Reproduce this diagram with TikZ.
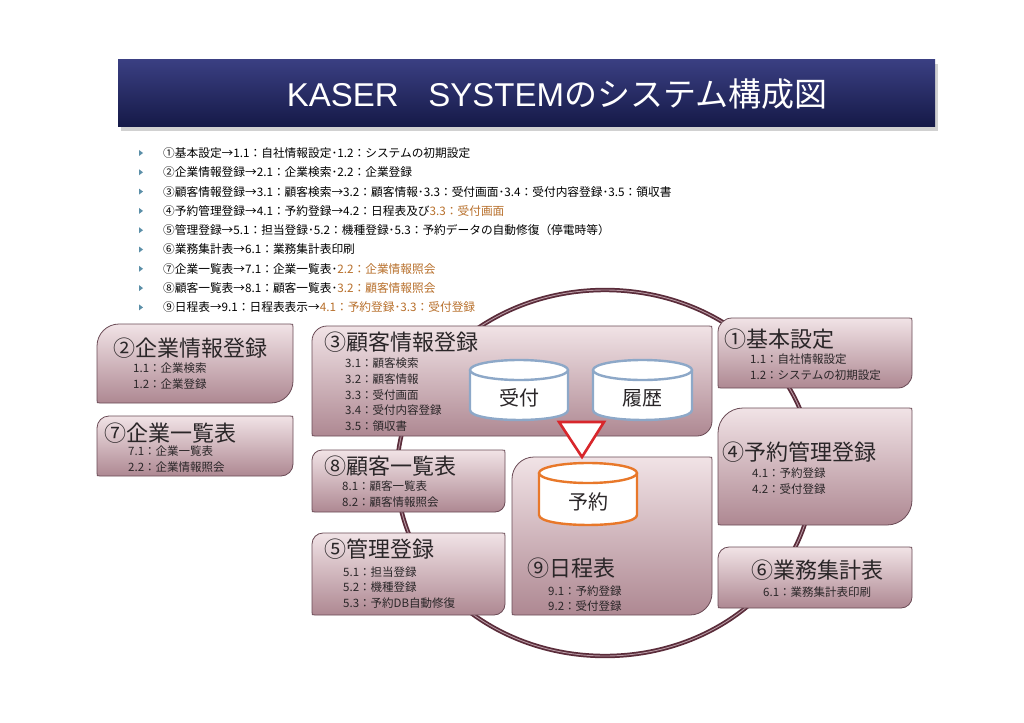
\documentclass[tikz,border=0pt]{standalone}
\usepackage{fontspec}
\setmainfont{Noto Sans CJK JP}
\newfontfamily\latinsans{Liberation Sans}
\definecolor{boxtop}{HTML}{F1E3E6}
\definecolor{boxbot}{HTML}{AE8892}
\definecolor{boxedge}{HTML}{6A4A55}
\definecolor{txt}{HTML}{2A2628}
\definecolor{orng}{HTML}{B8702C}
\definecolor{ringdark}{HTML}{5A2C3A}
\definecolor{ringlight}{HTML}{B99AA4}
\definecolor{navytop}{HTML}{3A3F82}
\definecolor{navybot}{HTML}{151947}
\definecolor{bluecyl}{HTML}{8DA8C8}
\definecolor{orangecyl}{HTML}{E8782A}
\definecolor{redtri}{HTML}{D8262B}
\definecolor{bullet}{HTML}{5B8FA8}
\tikzset{
  boxfill/.style={draw=boxedge, line width=0.8pt, top color=boxtop, bottom color=boxbot},
  boxtitle/.style={anchor=west, inner sep=0pt, font=\fontsize{22}{24}\selectfont, text=txt},
  boxline/.style={anchor=west, inner sep=0pt, font=\fontsize{11.5}{13}\selectfont, text=txt},
  listline/.style={anchor=west, inner sep=0pt, font=\fontsize{11.7}{13}\selectfont, text=black},
  cyllabel/.style={inner sep=0pt, font=\fontsize{20}{22}\selectfont, text=txt},
}
% leaf-shaped box: x1 y1 x2 y2 R (top-left and bottom-right rounded)
\newcommand\leafbox[5]{%
  \path[boxfill] (#1,#2+#5) .. controls (#1,#2+0.448*#5) and (#1+0.448*#5,#2) .. (#1+#5,#2)
    -- (#3-3,#2) .. controls (#3,#2) .. (#3,#2+3)
    -- (#3,#4-#5) .. controls (#3,#4-0.448*#5) and (#3-0.448*#5,#4) .. (#3-#5,#4)
    -- (#1+3,#4) .. controls (#1,#4) .. (#1,#4-3) -- cycle;}
% cylinder: name x1 x2 ytopcentre ybotcentre colour label
\newcommand\dbcyl[7]{%
  \path[fill=white] (#2,#4) -- (#2,#5) .. controls (#2,#5+13.3) and (#3,#5+13.3) .. (#3,#5)
    -- (#3,#4) .. controls (#3,#4-13.3) and (#2,#4-13.3) .. (#2,#4) -- cycle;
  \draw[draw=#6, line width=2.4pt] (#2,#4) -- (#2,#5) .. controls (#2,#5+13.3) and (#3,#5+13.3) .. (#3,#5) -- (#3,#4);
  \draw[draw=#6, line width=2.4pt] ({(#2+#3)/2},#4) ellipse [x radius={(#3-#2)/2}, y radius=10];
  \node[cyllabel] (#1) at ({(#2+#3)/2},{(#4+#5)/2+8}) {#7};}
\newcommand\bulletmark[1]{%
  \fill[bullet] (139,#1-3) -- (143,#1) -- (139,#1+3) -- cycle;}
\begin{document}
\begin{tikzpicture}[x=1pt,y=-1pt]
\useasboundingbox (0,0) rectangle (1024,722);
\fill[white] (0,0) rectangle (1024,722);

% title bar
\fill[black, opacity=0.18] (121,64) rectangle (938,131);
\path[top color=navytop, bottom color=navybot] (118,60) rectangle (935,127);
\node[inner sep=0pt, text=white, font=\fontsize{33}{36}\selectfont] (title) at (557,94)
  {{\latinsans KASER\hspace{0.9em}SYSTEM}のシステム構成図};

% bullet list
\foreach \yy in {153,172.3,191.6,210.9,230.2,249.5,268.8,288.1,307.4} {\bulletmark{\yy}}
\node[listline] (l1) at (163,153) {①基本設定→1.1：自社情報設定･1.2：システムの初期設定};
\node[listline] (l2) at (163,172.3) {②企業情報登録→2.1：企業検索･2.2：企業登録};
\node[listline] (l3) at (163,191.6) {③顧客情報登録→3.1：顧客検索→3.2：顧客情報･3.3：受付画面･3.4：受付内容登録･3.5：領収書};
\node[listline] (l4) at (163,210.9) {④予約管理登録→4.1：予約登録→4.2：日程表及び\textcolor{orng}{3.3：受付画面}};
\node[listline] (l5) at (163,230.2) {⑤管理登録→5.1：担当登録･5.2：機種登録･5.3：予約データの自動修復（停電時等）};
\node[listline] (l6) at (163,249.5) {⑥業務集計表→6.1：業務集計表印刷};
\node[listline] (l7) at (163,268.8) {⑦企業一覧表→7.1：企業一覧表･\textcolor{orng}{2.2：企業情報照会}};
\node[listline] (l8) at (163,288.1) {⑧顧客一覧表→8.1：顧客一覧表･\textcolor{orng}{3.2：顧客情報照会}};
\node[listline] (l9) at (163,307.4) {⑨日程表→9.1：日程表表示→\textcolor{orng}{4.1：予約登録･3.3：受付登録}};

% ring
\draw[ringdark, line width=4.4pt] (605,473) ellipse [x radius=208, y radius=183];
\draw[ringlight, line width=0.9pt] (605,473) ellipse [x radius=208, y radius=183];

% box 2
\leafbox{97}{324}{293}{403}{22}
\node[boxtitle] (t2) at (113,348) {②企業情報登録};
\node[boxline] (t2a) at (133,368) {1.1：企業検索};
\node[boxline] (t2b) at (133,384) {1.2：企業登録};

% box 7
\leafbox{97}{416}{293}{476}{12}
\node[boxtitle] (t7) at (104,433) {⑦企業一覧表};
\node[boxline] (t7a) at (128,451) {7.1：企業一覧表};
\node[boxline] (t7b) at (128,467) {2.2：企業情報照会};

% box 3
\leafbox{312}{326}{712}{436}{15}
\node[boxtitle] (t3) at (324,342) {③顧客情報登録};
\node[boxline] (t3a) at (345,363) {3.1：顧客検索};
\node[boxline] (t3b) at (345,379) {3.2：顧客情報};
\node[boxline] (t3c) at (345,395) {3.3：受付画面};
\node[boxline] (t3d) at (345,410) {3.4：受付内容登録};
\node[boxline] (t3e) at (345,426) {3.5：領収書};

% box 8
\leafbox{312}{450}{505}{512}{10}
\node[boxtitle] (t8) at (324,466) {⑧顧客一覧表};
\node[boxline] (t8a) at (342,486) {8.1：顧客一覧表};
\node[boxline] (t8b) at (342,502) {8.2：顧客情報照会};

% box 5
\leafbox{312}{533}{505}{615}{11}
\node[boxtitle] (t5) at (324,549) {⑤管理登録};
\node[boxline] (t5a) at (343,572) {5.1：担当登録};
\node[boxline] (t5b) at (343,587) {5.2：機種登録};
\node[boxline] (t5c) at (343,603) {5.3：予約DB自動修復};

% box 9
\leafbox{512}{457}{712}{615}{22}
\node[boxtitle] (t9) at (527,568) {⑨日程表};
\node[boxline] (t9a) at (548,591) {9.1：予約登録};
\node[boxline] (t9b) at (548,606) {9.2：受付登録};

% box 1
\leafbox{718}{318}{912}{388}{14}
\node[boxtitle] (t1) at (724,339) {①基本設定};
\node[boxline] (t1a) at (750,359) {1.1：自社情報設定};
\node[boxline] (t1b) at (750,375) {1.2：システムの初期設定};

% box 4
\leafbox{718}{408}{912}{525}{25}
\node[boxtitle] (t4) at (722,452) {④予約管理登録};
\node[boxline] (t4a) at (752,473) {4.1：予約登録};
\node[boxline] (t4b) at (752,489) {4.2：受付登録};

% box 6
\leafbox{718}{547}{912}{608}{11}
\node[boxtitle] (t6) at (751,570) {⑥業務集計表};
\node[boxline] (t6a) at (763,592) {6.1：業務集計表印刷};

% databases
\dbcyl{uketsuke}{470}{568}{370}{410}{bluecyl}{受付}
\dbcyl{rireki}{593}{692}{370}{410}{bluecyl}{履歴}
\dbcyl{yoyaku}{539}{637}{473}{515}{orangecyl}{予約}

% red triangle
\draw[redtri, line width=2.6pt, fill=white, line join=miter] (559,422) -- (604,422) -- (582,457) -- cycle;
\end{tikzpicture}
\end{document}
